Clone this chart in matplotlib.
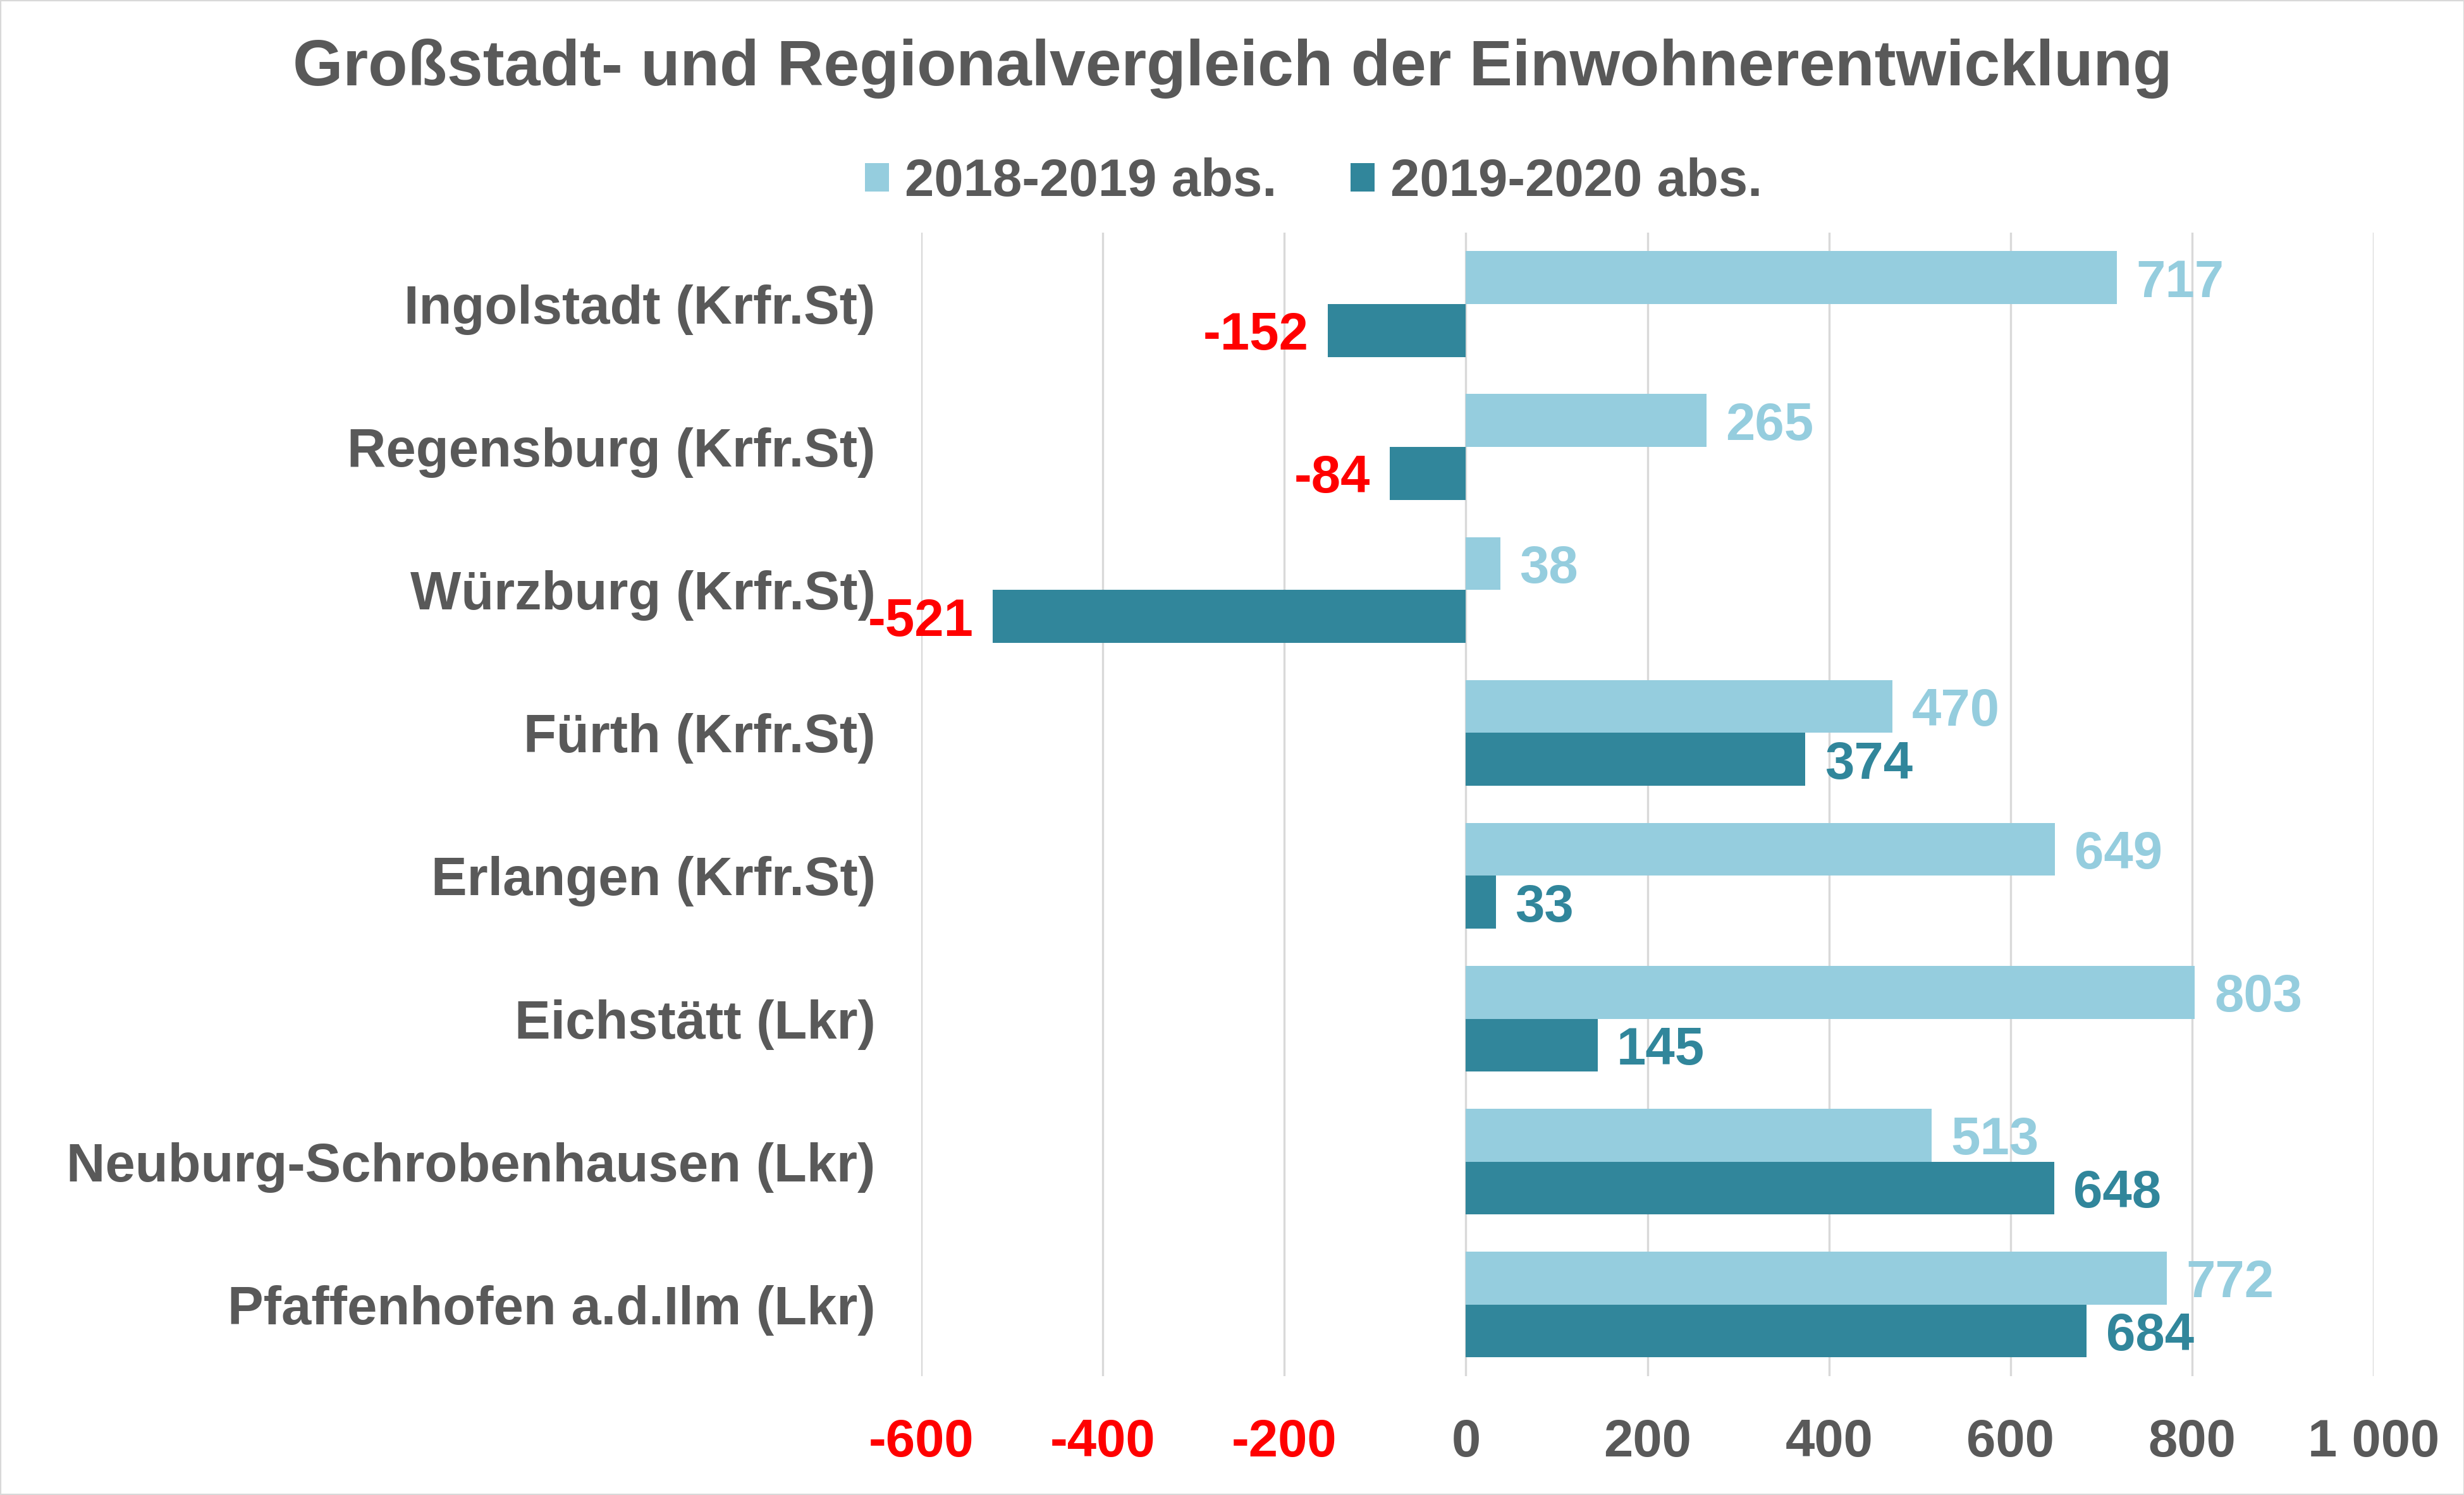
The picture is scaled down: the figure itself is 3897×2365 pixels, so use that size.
import matplotlib
matplotlib.use("Agg")
import matplotlib.pyplot as plt
from matplotlib.patches import Rectangle
from matplotlib.ticker import FixedLocator, FixedFormatter
import numpy as np

categories = ["Ingolstadt (Krfr.St)", "Regensburg (Krfr.St)", "Würzburg (Krfr.St)",
              "Fürth (Krfr.St)", "Erlangen (Krfr.St)", "Eichstätt (Lkr)",
              "Neuburg-Schrobenhausen (Lkr)", "Pfaffenhofen a.d.Ilm (Lkr)"]
series_2018_2019 = [717, 265, 38, 470, 649, 803, 513, 772]
series_2019_2020 = [-152, -84, -521, 374, 33, 145, 648, 684]
series_names = ["2018-2019 abs.", "2019-2020 abs."]
tick_values = [-600, -400, -200, 0, 200, 400, 600, 800, 1000]
tick_labels = ["-600", "-400", "-200", "0", "200", "400", "600", "800", "1 000"]
title = "Großstadt- und Regionalvergleich der Einwohnerentwicklung"

LIGHT = "#95CDDE"
DARK = "#31869B"
GREY = "#595959"
RED = "#FF0000"
GRID = "#D9D9D9"

plt.rcParams['font.family'] = ['Liberation Sans', 'DejaVu Sans']
plt.rcParams['font.weight'] = 'bold'

DPI = 100
fig = plt.figure(figsize=(38.98, 23.65), dpi=DPI)
ax = fig.add_axes([0.3738, 0.0796, 0.5893, 0.7648])

y = np.arange(len(categories))
h = 0.37
b1 = ax.barh(y - h / 2, series_2018_2019, height=h, color=LIGHT, label=series_names[0], zorder=3)
b2 = ax.barh(y + h / 2, series_2019_2020, height=h, color=DARK, label=series_names[1], zorder=3)

ax.set_xlim(-600, 1000)
ax.set_ylim(len(categories) - 0.5, -0.5)

ax.xaxis.set_major_locator(FixedLocator(tick_values))
ax.xaxis.set_major_formatter(FixedFormatter(tick_labels))
ax.set_yticks(y)
ax.set_yticklabels(categories)

fs = 60
ax.tick_params(axis='x', length=0, pad=48, labelsize=fs, labelcolor=GREY)
ax.tick_params(axis='y', length=0, pad=52, labelsize=61.2, labelcolor=GREY)
for lbl, v in zip(ax.get_xticklabels(), tick_values):
    lbl.set_color(RED if v < 0 else GREY)
    lbl.set_fontweight('bold')
for lbl in ax.get_yticklabels():
    lbl.set_fontweight('bold')

ax.grid(axis='x', color=GRID, linewidth=2.4, zorder=0)
ax.grid(axis='y', visible=False)
for s in ax.spines.values():
    s.set_visible(False)

off = 22
for bars, vals, col in ((b1, series_2018_2019, LIGHT), (b2, series_2019_2020, DARK)):
    for rect, v in zip(bars, vals):
        yc = rect.get_y() + rect.get_height() / 2
        if v >= 0:
            ax.annotate(str(v), (v, yc), xytext=(off, 0), textcoords='offset points',
                        ha='left', va='center_baseline', fontsize=fs, fontweight='bold',
                        color=col, zorder=5, annotation_clip=False)
        else:
            ax.annotate(str(v), (v, yc), xytext=(-off, 0), textcoords='offset points',
                        ha='right', va='center_baseline', fontsize=fs, fontweight='bold',
                        color=RED, zorder=5, annotation_clip=False)

fig.text(0.5, 1 - 108 / 2365, title, ha='center', va='center', fontsize=73.5,
         fontweight='bold', color=GREY)

leg = fig.legend(handles=[b1, b2], labels=series_names, loc='center',
                 bbox_to_anchor=(0.533, 1 - 288 / 2365), ncol=2, frameon=False,
                 fontsize=fs, handlelength=0.45, handleheight=0.45,
                 handletextpad=0.3, columnspacing=1.4)
for t in leg.get_texts():
    t.set_color(GREY)
    t.set_fontweight('bold')

fig.patches.append(Rectangle((0, 0), 1, 1, transform=fig.transFigure, fill=False,
                             edgecolor=GRID, linewidth=3, zorder=10))

fig.savefig("out.png", dpi=DPI, facecolor='white')
